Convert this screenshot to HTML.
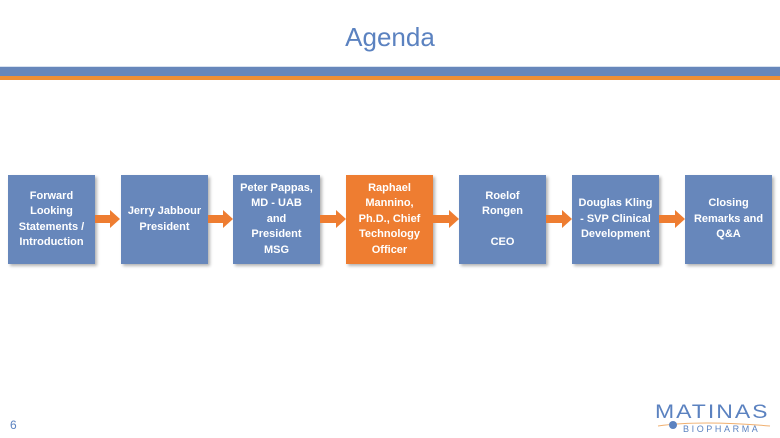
<!DOCTYPE html>
<html><head><style>
body{margin:0;width:780px;height:438px;background:#fff;position:relative;overflow:hidden;font-family:"Liberation Sans",sans-serif}
.t{position:absolute;top:22px;left:0;width:780px;text-align:center;color:#5b82c0;font-size:26px}
.b{position:absolute;width:87px;height:89px;top:175px;background:#6787bb;color:#fff;font-weight:bold;font-size:11px;line-height:15.5px;text-align:center;display:flex;align-items:center;justify-content:center;box-shadow:2px 2px 3px rgba(0,0,0,.3)}
.o{background:#ee7d31}
</style></head><body>
<div class="t">Agenda</div>
<div style="position:absolute;top:66px;left:0;width:780px;height:1px;background:#d8e2f0"></div>
<div style="position:absolute;top:67px;left:0;width:780px;height:9px;background:#6787bb"></div>
<div style="position:absolute;top:76px;left:0;width:780px;height:4px;background:#ef8f35"></div>
<div class="b" style="left:8px">Forward<br>Looking<br>Statements /<br>Introduction</div>
<div class="b" style="left:121px">Jerry Jabbour<br>President</div>
<div class="b" style="left:233px">Peter Pappas,<br>MD - UAB<br>and<br>President<br>MSG</div>
<div class="b o" style="left:346px">Raphael<br>Mannino,<br>Ph.D., Chief<br>Technology<br>Officer</div>
<div class="b" style="left:459px">Roelof<br>Rongen<br><br>CEO</div>
<div class="b" style="left:572px">Douglas Kling<br>- SVP Clinical<br>Development</div>
<div class="b" style="left:685px">Closing<br>Remarks and<br>Q&amp;A</div>
<svg width="780" height="438" style="position:absolute;left:0;top:0">
<g fill="#ee7d31">
<path d="M95 215h15v-5l10 9-10 9v-5h-15z"/>
<path d="M208 215h15v-5l10 9-10 9v-5h-15z"/>
<path d="M320 215h16v-5l10 9-10 9v-5h-16z"/>
<path d="M433 215h16v-5l10 9-10 9v-5h-16z"/>
<path d="M546 215h16v-5l10 9-10 9v-5h-16z"/>
<path d="M659 215h16v-5l10 9-10 9v-5h-16z"/>
</g>
<path d="M658 426 Q700 420 770 426" stroke="#f0b070" stroke-width="1" fill="none"/>
<circle cx="673" cy="425" r="4" fill="#5b82c0"/>
</svg>
<div style="position:absolute;left:10px;top:418px;color:#5b82c0;font-size:12px">6</div>
<div style="position:absolute;left:655px;top:398px;color:#5b82c0;font-size:23px;letter-spacing:2px;transform:scaleY(.85)">MATINAS</div>
<div style="position:absolute;left:683px;top:424px;color:#5b82c0;font-size:9px;letter-spacing:2.6px">BIOPHARMA</div>
</body></html>
